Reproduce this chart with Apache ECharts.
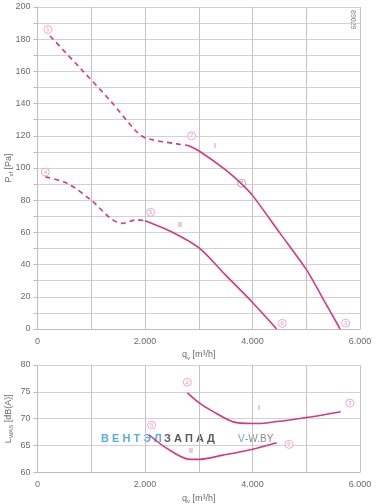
<!DOCTYPE html>
<html>
<head>
<meta charset="utf-8">
<script src="https://cdn.jsdelivr.net/npm/echarts@6/dist/echarts.min.js"></script>
<style>
  html, body { margin: 0; padding: 0; background: #fff; }
  #chart { width: 378px; height: 504px; }
</style>
</head>
<body>
<div id="chart"></div>
<script>
// pressure curves, [q m3/h, Psf Pa]
const pressIDashed = [[233, 182], [822, 161], [1349, 142], [1845, 122.5], [2031, 118.4], [2589, 115], [2800, 114]];
const pressISolid = [[2800, 114], [3000, 110.7], [3500, 98.8], [3800, 90], [4000, 83], [4500, 60], [5000, 37], [5300, 19.5], [5630, 0]];
const pressIIDashed = [[150, 94.5], [550, 90.5], [1000, 80], [1350, 69], [1570, 65.6], [1850, 67.8], [2000, 67.3]];
const pressIISolid = [[2000, 67.3], [2500, 60.3], [3000, 50.5], [3500, 33.5], [4000, 16.5], [4450, 0]];

// sound level curves, [q m3/h, LWAS dB(A)]
const soundI = [[2790, 74.8], [3000, 73], [3270, 71.3], [3640, 69.4], [4000, 69.1], [4260, 69.2], [5000, 70.2], [5640, 71.3]];
const soundII = [[2075, 67], [2400, 64.5], [2840, 62.4], [3000, 62.4], [3450, 63.2], [4000, 64.3], [4450, 65.5]];

// circled point numbers
const pointsTop = [[195, 186, '1'], [2868, 120, '2'], [5733, 3.7, '3'], [145, 97.5, '4'], [2106, 72.5, '5'], [4553, 3.5, '6']];
const pointSeven = [[3798, 90.5, '7']];
const pointsBottom = [[2786, 76.8, '2'], [5813, 72.9, '3'], [2124, 68.8, '5'], [4678, 65.2, '6']];

// curve names
const namesTop = [[3300, 113.6, 'I'], [2650, 64.6, 'II']];
const namesBottom = [[4120, 72, 'I'], [2855, 64, 'II']];

const pink = '#d8377f';
const pinkLight = '#e27ab0';
const gridCol = '#d2d2d2';
const textCol = '#6b6b6b';
const font = 'Liberation Sans';

const chart = echarts.init(document.getElementById('chart'));

const xLabel = v => (v % 2000 === 0 ? (v === 0 ? '0' : (v / 1000) + '.000') : '');
const subRich = { sub: { fontSize: 6, verticalAlign: 'bottom', padding: [6, 0, 0, 0] } };

function xAxisFor(idx) {
  return {
    gridIndex: idx, type: 'value', min: 0, max: 6000, interval: 1000,
    name: 'q{sub|v} [m³/h]', nameLocation: 'middle', nameGap: 20, nameMoveOverlap: false,
    nameTextStyle: { color: textCol, fontSize: 9, fontFamily: font, rich: subRich },
    axisLine: { lineStyle: { color: '#bdbdbd' } },
    axisTick: { show: false },
    axisLabel: { color: textCol, fontSize: 9, fontFamily: font, margin: 8, formatter: xLabel },
    splitLine: { show: true, lineStyle: { color: '#c4c4c4' } }
  };
}

function curve(data, x, y, dashed) {
  return {
    type: 'line', xAxisIndex: x, yAxisIndex: y, data: data, smooth: 0.3,
    showSymbol: false, symbol: 'none', silent: true,
    lineStyle: { color: pink, width: 1.6, type: dashed ? [5, 4] : 'solid' }
  };
}

function circles(data, x, y, col) {
  return {
    type: 'scatter', xAxisIndex: x, yAxisIndex: y, data: data, symbol: 'circle', symbolSize: 8,
    clip: false, silent: true,
    itemStyle: { color: '#fff', borderColor: col, borderWidth: 0.8 },
    label: { show: true, position: 'inside', formatter: p => p.data[2], fontSize: 6, color: col, fontFamily: font }
  };
}

function names(data, x, y) {
  return {
    type: 'scatter', xAxisIndex: x, yAxisIndex: y, data: data, symbolSize: 0, silent: true,
    label: { show: true, position: 'inside', formatter: p => p.data[2], fontSize: 7, color: pink, fontFamily: font }
  };
}

chart.setOption({
  animation: false,
  grid: [
    { left: 37.5, right: 18, top: 7, height: 322, outerBoundsMode: 'none', containLabel: false },
    { left: 37.5, right: 18, top: 365, height: 107.3, outerBoundsMode: 'none', containLabel: false }
  ],
  xAxis: [xAxisFor(0), xAxisFor(1)],
  yAxis: [
    {
      gridIndex: 0, type: 'value', min: 0, max: 200, interval: 10,
      name: 'P{sub|sf} [Pa]', nameLocation: 'middle', nameGap: 23, nameRotate: 90, nameMoveOverlap: false,
      nameTextStyle: { color: textCol, fontSize: 9, fontFamily: font, rich: subRich },
      axisLine: { show: true, lineStyle: { color: '#bdbdbd' } },
      axisTick: { show: true, length: 4, lineStyle: { color: '#bdbdbd' }, interval: (i, v) => v % 20 === 0 },
      axisLabel: { color: textCol, fontSize: 9, fontFamily: font, margin: 7, formatter: v => (v % 20 === 0 ? v : '') },
      splitLine: { show: true, lineStyle: { color: gridCol } }
    },
    {
      gridIndex: 1, type: 'value', min: 60, max: 80, interval: 5,
      name: 'L{sub|WAS} [dB(A)]', nameLocation: 'middle', nameGap: 23, nameRotate: 90, nameMoveOverlap: false,
      nameTextStyle: { color: textCol, fontSize: 9, fontFamily: font, rich: subRich },
      axisLine: { show: true, lineStyle: { color: '#bdbdbd' } },
      axisTick: { show: true, length: 4, lineStyle: { color: '#bdbdbd' } },
      axisLabel: { color: textCol, fontSize: 9, fontFamily: font, margin: 7 },
      splitLine: { show: true, lineStyle: { color: gridCol } }
    }
  ],
  graphic: [
    { type: 'text', left: 349, top: 10, rotation: -Math.PI / 2, style: { text: '89029', fontSize: 7, fill: '#777', fontFamily: font } },
    { type: 'text', left: 101, top: 433, style: { text: 'В Е Н Т Э Л', fontSize: 11, fontWeight: 'bold', fill: '#58aee3', fontFamily: font } },
    { type: 'text', left: 164, top: 433, style: { text: 'З А П А Д', fontSize: 11, fontWeight: 'bold', fill: '#5a5a5a', fontFamily: font } },
    { type: 'text', left: 238, top: 434, style: { text: 'V', fontSize: 10, fill: '#58aee3', fontFamily: font } },
    { type: 'text', left: 245, top: 434, style: { text: '-W.BY', fontSize: 10, fill: '#8a8a8a', fontFamily: font } }
  ],
  series: [
    curve(pressIDashed, 0, 0, true),
    curve(pressISolid, 0, 0, false),
    curve(pressIIDashed, 0, 0, true),
    curve(pressIISolid, 0, 0, false),
    curve(soundI, 1, 1, false),
    curve(soundII, 1, 1, false),
    circles(pointsTop, 0, 0, pinkLight),
    circles(pointSeven, 0, 0, '#777'),
    circles(pointsBottom, 1, 1, pinkLight),
    names(namesTop, 0, 0),
    names(namesBottom, 1, 1)
  ]
});
</script>
</body>
</html>
